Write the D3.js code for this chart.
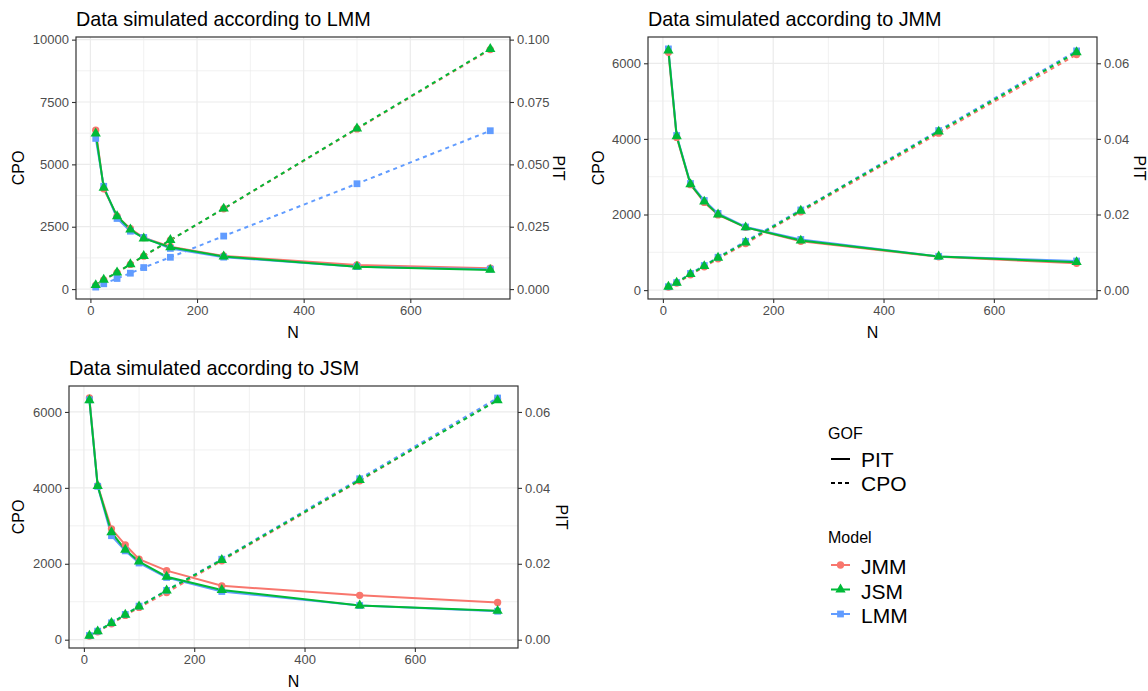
<!DOCTYPE html>
<html>
<head>
<meta charset="utf-8">
<script src="https://cdn.jsdelivr.net/npm/d3@7"></script>
<style>
  body { margin: 0; background: #fff; }
  svg { font-family: "Liberation Sans", Arial, sans-serif; display: block; }
</style>
</head>
<body>
<svg id="chart"></svg>
<script>
// ---- data ----
const nValues = [10, 25, 50, 75, 100, 150, 250, 500, 750];
const modelNames = ["JMM", "JSM", "LMM"];
const gofNames = ["PIT", "CPO"];

// Data simulated according to LMM
const lmmSimPitJMM = [0.0637, 0.0402, 0.0292, 0.0242, 0.0206, 0.0170, 0.0133, 0.0097, 0.0084];
const lmmSimPitJSM = [0.0624, 0.0406, 0.0292, 0.0239, 0.0203, 0.0168, 0.0131, 0.0090, 0.0077];
const lmmSimPitLMM = [0.0604, 0.0412, 0.0283, 0.0232, 0.0207, 0.0163, 0.0128, 0.0090, 0.0080];
const lmmSimCpoJMM = [150, 365, 660, 990, 1320, 1960, 3220, 6420, 9600];
const lmmSimCpoJSM = [159, 372, 664, 996, 1328, 1965, 3227, 6441, 9628];
const lmmSimCpoLMM = [80, 212, 425, 637, 863, 1275, 2125, 4223, 6348];

// Data simulated according to JMM
const jmmSimPitJMM = [0.0629, 0.0404, 0.0279, 0.0232, 0.0199, 0.0166, 0.0129, 0.0088, 0.0071];
const jmmSimPitJSM = [0.0634, 0.0407, 0.0280, 0.0234, 0.0200, 0.0166, 0.0131, 0.0089, 0.0074];
const jmmSimPitLMM = [0.0638, 0.0409, 0.0282, 0.0237, 0.0203, 0.0167, 0.0134, 0.0089, 0.0077];
const jmmSimCpoJMM = [80, 185, 405, 615, 830, 1230, 2070, 4150, 6230];
const jmmSimCpoJSM = [88, 194, 424, 635, 856, 1262, 2100, 4192, 6293];
const jmmSimCpoLMM = [90, 200, 440, 650, 870, 1290, 2120, 4220, 6328];

// Data simulated according to JSM
const jsmSimPitJMM = [0.0637, 0.0406, 0.0292, 0.0250, 0.0212, 0.0182, 0.0142, 0.0117, 0.0098];
const jsmSimPitJSM = [0.0631, 0.0405, 0.0283, 0.0237, 0.0206, 0.0166, 0.0131, 0.0090, 0.0076];
const jsmSimPitLMM = [0.0632, 0.0404, 0.0274, 0.0234, 0.0202, 0.0164, 0.0127, 0.0090, 0.0075];
const jsmSimCpoJMM = [95, 210, 420, 640, 850, 1244, 2080, 4187, 6340];
const jsmSimCpoJSM = [105, 219, 438, 657, 876, 1296, 2102, 4206, 6306];
const jsmSimCpoLMM = [110, 225, 445, 665, 885, 1300, 2120, 4240, 6368];

const xTicks = [0, 200, 400, 600];
const cpoTicksWide = [0, 2500, 5000, 7500, 10000];
const pitTicksWide = [0, 0.025, 0.05, 0.075, 0.1];
const cpoTicksNarrow = [0, 2000, 4000, 6000];
const pitTicksNarrow = [0, 0.02, 0.04, 0.06];

// ---- setup ----
const W = 1148, H = 691;
const PIT_FACTOR = 100000;   // secondary axis = primary / 1e5
const colors = { JMM: "#F8766D", JSM: "#00BA38", LMM: "#619CFF" };
const shapes = { JMM: d3.symbolCircle, JSM: d3.symbolTriangle, LMM: d3.symbolSquare };
const shapeSize = { JMM: 42, JSM: 46, LMM: 46 };
const drawOrder = ["JMM", "LMM", "JSM"];

const svg = d3.select("#chart").attr("width", W).attr("height", H);

const panels = [
  { id: "p1", title: "Data simulated according to LMM",
    left: 76, right: 510, top: 37, bottom: 299, cpoX: 23.5, pitX: 552.5,
    cpoTicks: cpoTicksWide, pitTicks: pitTicksWide, pitFmt: d3.format(".3f"),
    pit: { JMM: lmmSimPitJMM, JSM: lmmSimPitJSM, LMM: lmmSimPitLMM },
    cpo: { JMM: lmmSimCpoJMM, JSM: lmmSimCpoJSM, LMM: lmmSimCpoLMM } },
  { id: "p2", title: "Data simulated according to JMM",
    left: 648, right: 1097, top: 37, bottom: 299, cpoX: 603.5, pitX: 1133.5,
    cpoTicks: cpoTicksNarrow, pitTicks: pitTicksNarrow, pitFmt: d3.format(".2f"),
    pit: { JMM: jmmSimPitJMM, JSM: jmmSimPitJSM, LMM: jmmSimPitLMM },
    cpo: { JMM: jmmSimCpoJMM, JSM: jmmSimCpoJSM, LMM: jmmSimCpoLMM } },
  { id: "p3", title: "Data simulated according to JSM",
    left: 69, right: 518, top: 386, bottom: 648, cpoX: 24, pitX: 556,
    cpoTicks: cpoTicksNarrow, pitTicks: pitTicksNarrow, pitFmt: d3.format(".2f"),
    pit: { JMM: jsmSimPitJMM, JSM: jsmSimPitJSM, LMM: jsmSimPitLMM },
    cpo: { JMM: jsmSimCpoJMM, JSM: jsmSimCpoJSM, LMM: jsmSimCpoLMM } }
];

function expand(ext) {
  const pad = (ext[1] - ext[0]) * 0.05;
  return [ext[0] - pad, ext[1] + pad];
}

function drawPanel(cfg) {
  const g = svg.append("g");

  const xscale = d3.scaleLinear().domain(expand(d3.extent(nValues))).range([cfg.left, cfg.right]);

  // all values on the primary (CPO) scale
  let all = [];
  modelNames.forEach(m => {
    all = all.concat(cfg.cpo[m]);
    all = all.concat(cfg.pit[m].map(v => v * PIT_FACTOR));
  });
  const yscale = d3.scaleLinear().domain(expand(d3.extent(all))).range([cfg.bottom, cfg.top]);
  const pitscale = d3.scaleLinear()
    .domain(yscale.domain().map(v => v / PIT_FACTOR))
    .range([cfg.bottom, cfg.top]);

  // grid
  const xd = xscale.domain(), yd = yscale.domain();
  const xMinor = d3.range(100, xd[1], 200).filter(v => v > xd[0]);
  const step = cfg.cpoTicks[1] - cfg.cpoTicks[0];
  const yMinor = d3.range(step / 2, yd[1], step).filter(v => v > yd[0]);

  g.selectAll(".xminor").data(xMinor).join("line")
    .attr("x1", d => xscale(d)).attr("x2", d => xscale(d))
    .attr("y1", cfg.top).attr("y2", cfg.bottom)
    .attr("stroke", "#ebebeb").attr("stroke-width", 0.7);
  g.selectAll(".yminor").data(yMinor).join("line")
    .attr("x1", cfg.left).attr("x2", cfg.right)
    .attr("y1", d => yscale(d)).attr("y2", d => yscale(d))
    .attr("stroke", "#ebebeb").attr("stroke-width", 0.7);
  g.selectAll(".xmajor").data(xTicks).join("line")
    .attr("x1", d => xscale(d)).attr("x2", d => xscale(d))
    .attr("y1", cfg.top).attr("y2", cfg.bottom)
    .attr("stroke", "#ebebeb").attr("stroke-width", 1.2);
  g.selectAll(".ymajor").data(cfg.cpoTicks).join("line")
    .attr("x1", cfg.left).attr("x2", cfg.right)
    .attr("y1", d => yscale(d)).attr("y2", d => yscale(d))
    .attr("stroke", "#ebebeb").attr("stroke-width", 1.2);

  // clip
  svg.append("clipPath").attr("id", "clip-" + cfg.id)
    .append("rect")
    .attr("x", cfg.left).attr("y", cfg.top)
    .attr("width", cfg.right - cfg.left).attr("height", cfg.bottom - cfg.top);
  const plot = g.append("g").attr("clip-path", `url(#clip-${cfg.id})`);

  const pitLine = d3.line().x((d, i) => xscale(nValues[i])).y(d => pitscale(d));
  const cpoLine = d3.line().x((d, i) => xscale(nValues[i])).y(d => yscale(d));

  drawOrder.forEach(m => {
    plot.append("path")
      .attr("d", pitLine(cfg.pit[m]))
      .attr("fill", "none").attr("stroke", colors[m]).attr("stroke-width", 2);
    plot.append("path")
      .attr("d", cpoLine(cfg.cpo[m]))
      .attr("fill", "none").attr("stroke", colors[m]).attr("stroke-width", 2)
      .attr("stroke-dasharray", "4,4");
  });

  drawOrder.forEach(m => {
    const sym = d3.symbol().type(shapes[m]).size(shapeSize[m]);
    plot.selectAll(null).data(cfg.pit[m]).join("path")
      .attr("d", sym)
      .attr("transform", (d, i) => `translate(${xscale(nValues[i])},${pitscale(d)})`)
      .attr("fill", colors[m]);
    plot.selectAll(null).data(cfg.cpo[m]).join("path")
      .attr("d", sym)
      .attr("transform", (d, i) => `translate(${xscale(nValues[i])},${yscale(d)})`)
      .attr("fill", colors[m]);
  });

  // border
  g.append("rect")
    .attr("x", cfg.left).attr("y", cfg.top)
    .attr("width", cfg.right - cfg.left).attr("height", cfg.bottom - cfg.top)
    .attr("fill", "none").attr("stroke", "#333333").attr("stroke-width", 1.2);

  // axes
  const styleAxis = sel => {
    sel.select(".domain").remove();
    sel.selectAll(".tick line").attr("stroke", "#333333").attr("stroke-width", 1.1);
    sel.selectAll(".tick text").attr("fill", "#4d4d4d")
      .style("font-size", "13px").style("font-family", "Liberation Sans, Arial, sans-serif");
  };

  g.append("g").attr("transform", `translate(0,${cfg.bottom})`)
    .call(d3.axisBottom(xscale).tickValues(xTicks).tickSize(4).tickPadding(3))
    .call(styleAxis);
  g.append("g").attr("transform", `translate(${cfg.left},0)`)
    .call(d3.axisLeft(yscale).tickValues(cfg.cpoTicks).tickSize(4).tickPadding(3).tickFormat(d3.format("d")))
    .call(styleAxis);
  g.append("g").attr("transform", `translate(${cfg.right},0)`)
    .call(d3.axisRight(pitscale).tickValues(cfg.pitTicks).tickSize(4).tickPadding(3).tickFormat(cfg.pitFmt))
    .call(styleAxis);

  // titles
  g.append("text")
    .attr("x", cfg.left).attr("y", cfg.top - 11)
    .style("font-size", "19.8px").attr("fill", "#000")
    .text(cfg.title);

  g.append("text")
    .attr("x", (cfg.left + cfg.right) / 2).attr("y", cfg.bottom + 39)
    .attr("text-anchor", "middle")
    .style("font-size", "16px").attr("fill", "#000")
    .text("N");

  const midY = (cfg.top + cfg.bottom) / 2;
  g.append("text")
    .attr("transform", `translate(${cfg.cpoX},${midY}) rotate(-90)`)
    .attr("text-anchor", "middle")
    .style("font-size", "16px").attr("fill", "#000")
    .text("CPO");

  g.append("text")
    .attr("transform", `translate(${cfg.pitX},${midY}) rotate(90)`)
    .attr("text-anchor", "middle")
    .style("font-size", "16px").attr("fill", "#000")
    .text("PIT");
}

panels.forEach(drawPanel);

// ---- legend ----
const legend = svg.append("g");
const keyX1 = 831, keyX2 = 850, labelX = 861;

legend.append("text").attr("x", 828).attr("y", 439)
  .style("font-size", "16px").text("GOF");

const gofY = d3.scalePoint().domain(gofNames).range([459, 483]);
gofNames.forEach(name => {
  legend.append("line")
    .attr("x1", keyX1).attr("x2", keyX2)
    .attr("y1", gofY(name)).attr("y2", gofY(name))
    .attr("stroke", "#000").attr("stroke-width", 2)
    .attr("stroke-dasharray", name === "CPO" ? "4,3" : null);
  legend.append("text").attr("x", labelX).attr("y", gofY(name) + 8)
    .style("font-size", "21px").text(name);
});

legend.append("text").attr("x", 828).attr("y", 543)
  .style("font-size", "16px").text("Model");

const modelY = d3.scalePoint().domain(modelNames).range([565, 614]);
modelNames.forEach(name => {
  legend.append("line")
    .attr("x1", keyX1).attr("x2", keyX2)
    .attr("y1", modelY(name)).attr("y2", modelY(name))
    .attr("stroke", colors[name]).attr("stroke-width", 2);
  legend.append("path")
    .attr("d", d3.symbol().type(shapes[name]).size(shapeSize[name])())
    .attr("transform", `translate(${(keyX1 + keyX2) / 2},${modelY(name)})`)
    .attr("fill", colors[name]);
  legend.append("text").attr("x", labelX).attr("y", modelY(name) + 9)
    .style("font-size", "21px").text(name);
});
</script>
</body>
</html>
